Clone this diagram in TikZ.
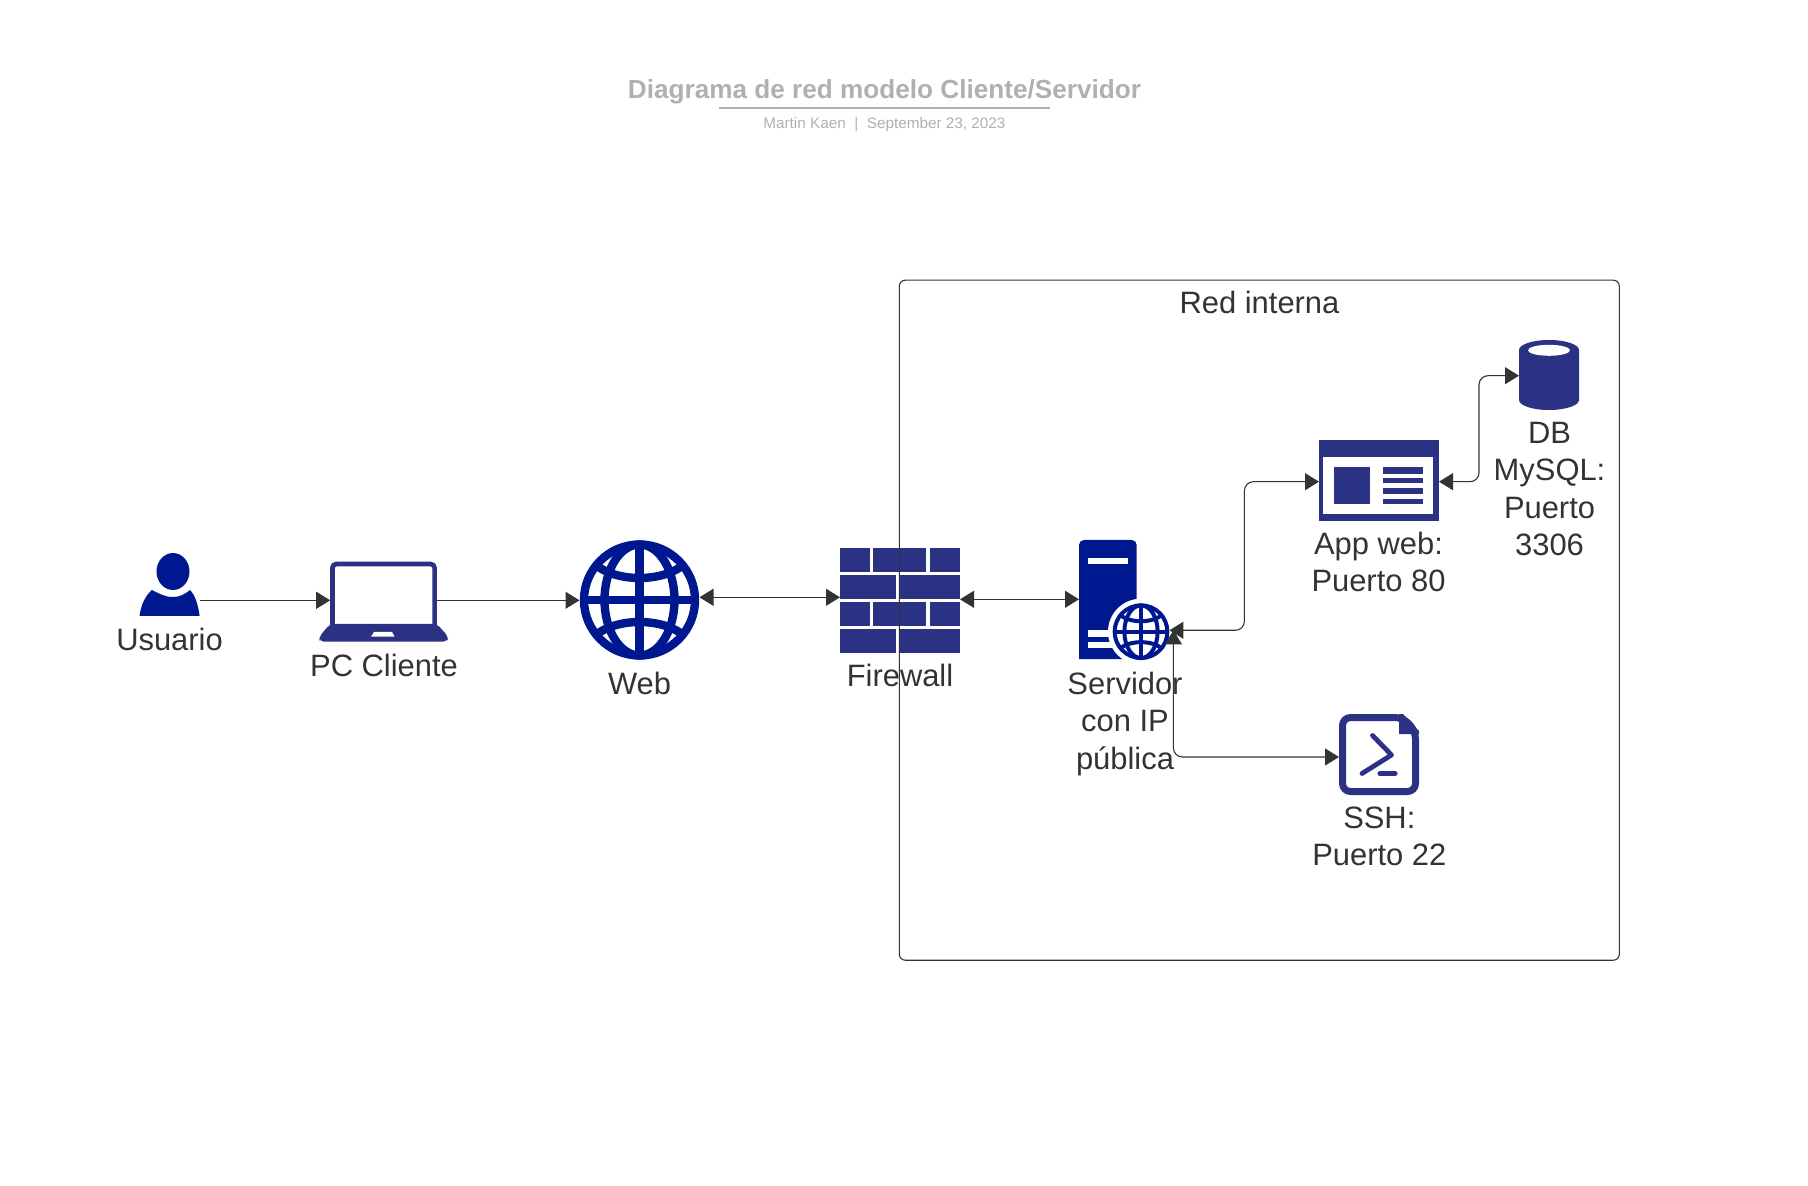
\documentclass[tikz,border=0pt]{standalone}
\usepackage{fontspec}
\setmainfont{Liberation Sans}
\definecolor{IconBlue}{HTML}{00188F}
\definecolor{IconNavy}{HTML}{2B3284}
\definecolor{LineGrey}{HTML}{333333}
\definecolor{TitleGrey}{HTML}{B0B0B0}
\usetikzlibrary{arrows.meta}
\tikzset{
    spot/.style={inner sep=0pt, outer sep=0pt},
    conn/.style={draw=LineGrey, line width=0.55pt, rounded corners=4.5pt, >={Triangle[length=7pt, width=8.5pt]}},
    lbl/.style={spot, text=LineGrey, align=center, anchor=base, font=\fontsize{15.45}{18.7}\selectfont},
}
% centre x, centre y, scale
\newcommand{\globeicon}[3]{
    \begin{scope}[shift={(#1,#2)}, scale=#3, draw=IconBlue, line width=#3*4.2pt]
        \draw (0,0) circle [radius=55.5];
        \draw (0,0) ellipse [x radius=35, y radius=55.5];
        \draw (0,-55.5) -- (0,55.5);
        \draw (-55.5,0) -- (55.5,0);
        \draw (-46,-37) .. controls (-25,-17) and (25,-17) .. (46,-37);
        \draw (-46,37) .. controls (-25,17) and (25,17) .. (46,37);
    \end{scope}
}

\begin{document}
\begin{tikzpicture}[x=0.5pt, y=-0.5pt]

    \useasboundingbox (0,0) rectangle (1808,1186);

    % anchors of the connectors
    \node [spot, minimum width=30pt, minimum height=40pt] (usuario) at (169.5,590) {};
    \node [spot, minimum width=53.5pt, minimum height=40pt] (pc) at (383.7,600.3) {};
    \node [spot, minimum width=60pt, minimum height=60pt] (web) at (639.5,600) {};
    \node [spot, minimum width=60pt, minimum height=52pt] (firewall) at (900,597.3) {};
    \node [spot, minimum width=45pt, minimum height=60pt] (servidor) at (1124,599.3) {};
    \node [spot, circle, minimum size=28.4pt] (srvglobe) at (1141,630.3) {};
    \node [spot, minimum width=60pt, minimum height=40pt] (app) at (1379,481.7) {};
    \node [spot, minimum width=30pt, minimum height=35pt] (db) at (1549,375.7) {};
    \node [spot, minimum width=40pt, minimum height=40pt] (ssh) at (1379,757) {};

    % usuario
    \fill [IconBlue] (173,571.5) ellipse [x radius=16.5, y radius=18.5];
    \fill [IconBlue] (139.5,616) .. controls (141,604) and (146,595) .. (152,590)
    .. controls (160,594) and (165,597) .. (173,597)
    .. controls (180,597) and (185,594) .. (190,590)
    .. controls (195,595) and (198,604) .. (199.6,616) -- cycle;

    % pc cliente
    \draw [IconNavy, line width=2.35pt, rounded corners=2pt] (332.4,564) rectangle (434.6,630);
    \fill [IconNavy, rounded corners=2pt] (330,624) -- (437,624) -- (448.5,637) -- (447,641.7) -- (320,641.7) -- (319,637) -- cycle;
    \fill [white] (371,636.7) -- (394.6,636.7) -- (392,632) -- (374,632) -- cycle;

    % web
    \globeicon{639.5}{600}{1}

    % firewall
    \foreach \y in {548,602} {
        \fill [IconNavy] (840,\y) rectangle (870,\y+24);
        \fill [IconNavy] (873,\y) rectangle (926,\y+24);
        \fill [IconNavy] (930,\y) rectangle (960,\y+24);
    }
    \foreach \y in {575,629} {
        \fill [IconNavy] (840,\y) rectangle (896,\y+24);
        \fill [IconNavy] (899,\y) rectangle (960,\y+24);
    }

    % servidor
    \fill [IconBlue] (1079,659) [rounded corners=2.5pt] -- (1079,540) -- (1136.7,540) [sharp corners] -- (1136.7,659) -- cycle;
    \fill [white] (1088,558) rectangle (1128,564);
    \fill [white] (1087.7,630) rectangle (1115,636.7);
    \fill [white] (1087.7,641.7) rectangle (1115,647.7);
    \fill [white] (1141,631.7) circle [radius=33];
    \globeicon{1141}{631.7}{0.475}

    % app web
    \fill [IconNavy] (1319,440) rectangle (1439,521);
    \fill [white] (1323.3,456.7) rectangle (1433.3,514);
    \fill [IconNavy] (1334,467) rectangle (1370,504);
    \foreach \y/\h in {467/6.7, 478/5.5, 488/6, 499/5} {
        \fill [IconNavy] (1383,\y) rectangle (1423,\y+\h);
    }

    % db
    \fill [IconNavy] (1519,350) arc [start angle=180, end angle=360, x radius=30, y radius=10]
    -- (1579,400) arc [start angle=0, end angle=180, x radius=30, y radius=10] -- cycle;
    \fill [white] (1549,350.3) ellipse [x radius=21, y radius=5.5];

    % ssh
    \draw [IconNavy, line width=3.5pt, rounded corners=4pt] (1342.5,717.5) -- (1403,717.5) -- (1415.5,731) -- (1415.5,791.5) -- (1342.5,791.5) -- cycle;
    \fill [IconNavy] (1399,714) -- (1403,714) -- (1419,731) -- (1419,734) -- (1399,734) -- cycle;
    \draw [IconNavy, line width=2.4pt, line cap=round, line join=round] (1372.5,735.5) -- (1391.5,755) -- (1362,773.5);
    \draw [IconNavy, line width=2.6pt, line cap=round] (1380,773.5) -- (1395,773.5);

    % red interna
    \node [draw=LineGrey, line width=0.55pt, rounded corners=3pt, spot, minimum width=360pt, minimum height=340pt] (interna) at (1259.3,620.2) {};

    \draw [conn, ->] (usuario.east |- pc.west) -- (pc.west);
    \draw [conn, ->] (pc.east) -- (web.west |- pc.east);
    \draw [conn, <->] (web.east |- firewall.west) -- (firewall.west);
    \draw [conn, <->] (firewall.east |- servidor.west) -- (servidor.west);
    \draw [conn, <->] (srvglobe.east) -- ++(75,0) |- (app.west);
    \draw [conn, <->] (app.east) -- ++(40,0) |- (db.west);
    \draw [conn, <->] ([xshift=2pt]srvglobe.east) |- (ssh.west);

    \node [lbl] (usuarioText) at (169.5,650) {Usuario};
    \node [lbl] (pcText) at (384,676) {PC Cliente};
    \node [lbl] (webText) at (639.5,694) {Web};
    \node [lbl] (firewallText) at (900,686.7) {Firewall};
    \node [lbl] (servidorText) at (1125,769.3) {Servidor\\con IP\\pública};
    \node [lbl] (appText) at (1378.5,592) {App web:\\Puerto 80};
    \node [lbl] (dbText) at (1549.5,555.7) {DB\\MySQL:\\Puerto\\3306};
    \node [lbl] (sshText) at (1379.3,865.7) {SSH:\\Puerto 22};
    \node [lbl] (internaText) at (1259.5,313.6) {Red interna};

    \node [spot, anchor=base, text=TitleGrey, font=\bfseries\fontsize{13.08}{16}\selectfont] (title) at (884.5,98.7) {Diagrama de red modelo Cliente/Servidor};
    \draw [TitleGrey, line width=1pt] (719,108) -- (1050,108);
    \node [spot, anchor=base, text=TitleGrey, font=\fontsize{7.65}{9}\selectfont] (subtitle) at (884.4,128.3) {Martin Kaen~~|~~September 23, 2023};

\end{tikzpicture}
\end{document}
